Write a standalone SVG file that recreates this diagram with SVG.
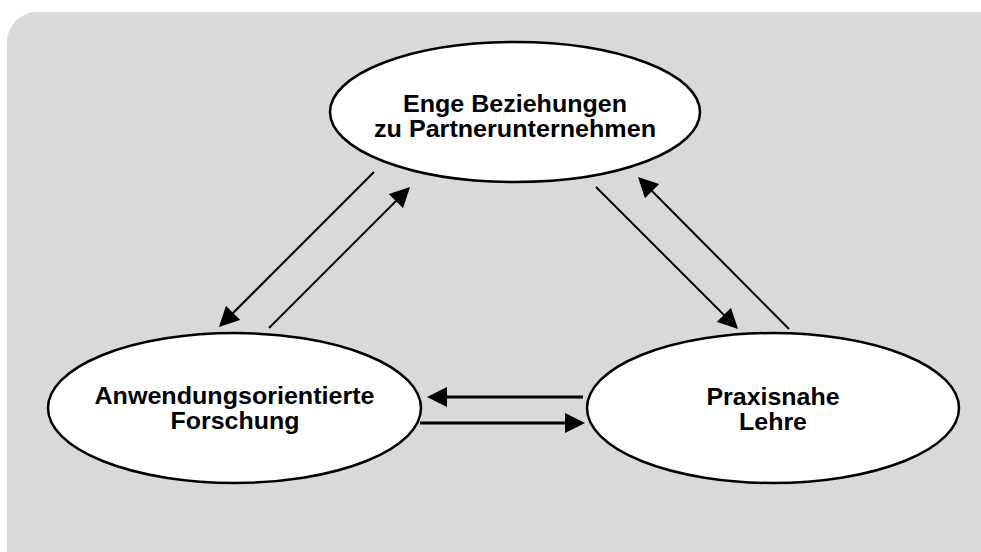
<svg xmlns="http://www.w3.org/2000/svg" width="981" height="552" viewBox="0 0 981 552">
<style>
.node ellipse{fill:#ffffff;stroke:#000000;stroke-width:2.5}
.node text{font-family:"Liberation Sans",Arial,sans-serif;font-weight:bold;font-size:24px;fill:#000000;text-anchor:middle}
.conn line{stroke:#000000;fill:none}
.thin{stroke-width:2}
.thick{stroke-width:3}
</style>
<defs>
<marker id="ah" viewBox="0 0 20 20" refX="10" refY="10" markerWidth="20" markerHeight="20" markerUnits="userSpaceOnUse" orient="auto">
<path d="M0,0 L20,10 L0,20 z" fill="#000000"/>
</marker>
</defs>
<rect x="0" y="0" width="981" height="552" fill="#ffffff"/>
<rect x="7" y="12" width="1010" height="580" rx="30" ry="30" fill="#d9d9d9"/>
<g id="connectors" class="conn">
<line class="thin" x1="374" y1="172" x2="226" y2="320" marker-end="url(#ah)"/>
<line class="thin" x1="269" y1="328" x2="403" y2="194" marker-end="url(#ah)"/>
<line class="thin" x1="596" y1="187" x2="731" y2="322" marker-end="url(#ah)"/>
<line class="thin" x1="789" y1="329" x2="645" y2="184" marker-end="url(#ah)"/>
<line class="thick" x1="583" y1="397" x2="437" y2="397" marker-end="url(#ah)"/>
<line class="thick" x1="420" y1="423" x2="575" y2="423" marker-end="url(#ah)"/>
</g>
<g id="node-partner" class="node">
<ellipse cx="515" cy="112" rx="185" ry="70"/>
<text x="515" y="112" textLength="224" lengthAdjust="spacingAndGlyphs">Enge Beziehungen</text>
<text x="515" y="137" textLength="282" lengthAdjust="spacingAndGlyphs">zu Partnerunternehmen</text>
</g>
<g id="node-forschung" class="node">
<ellipse cx="234.5" cy="408" rx="186.5" ry="75"/>
<text x="234.5" y="404" textLength="280" lengthAdjust="spacingAndGlyphs">Anwendungsorientierte</text>
<text x="235" y="428.5" textLength="129" lengthAdjust="spacingAndGlyphs">Forschung</text>
</g>
<g id="node-lehre" class="node">
<ellipse cx="773" cy="408" rx="186" ry="75"/>
<text x="773" y="405" textLength="133" lengthAdjust="spacingAndGlyphs">Praxisnahe</text>
<text x="773" y="429.5" textLength="68" lengthAdjust="spacingAndGlyphs">Lehre</text>
</g>
</svg>
